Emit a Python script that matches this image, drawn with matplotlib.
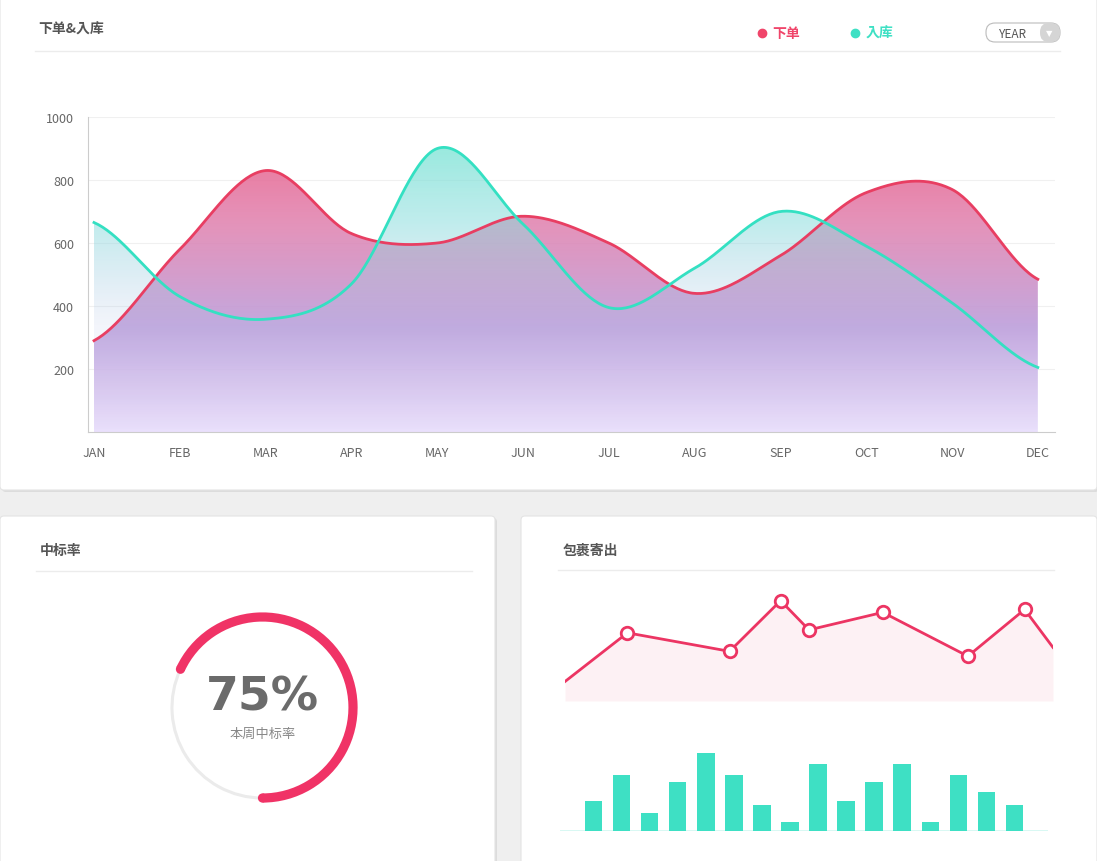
import numpy as np
import matplotlib
matplotlib.use("Agg")
import matplotlib.pyplot as plt
from matplotlib import font_manager as fm
from matplotlib.patches import FancyBboxPatch, Polygon, Wedge, Circle
from matplotlib.colors import LinearSegmentedColormap

cjk = None
for f in fm.findSystemFonts():
    if 'CJK' in f and ('Regular' in f or 'SC' in f or 'JP' in f):
        cjk = f; break
if cjk:
    fm.fontManager.addfont(cjk)
    cname = fm.FontProperties(fname=cjk).get_name()
else:
    cname = 'Noto Sans CJK SC'
plt.rcParams['font.family'] = [cname, 'DejaVu Sans']

months = ["JAN","FEB","MAR","APR","MAY","JUN","JUL","AUG","SEP","OCT","NOV","DEC"]
orders = [290, 580, 830, 630, 600, 685, 600, 440, 560, 760, 770, 485]
stock = [665, 430, 358, 470, 900, 660, 395, 520, 700, 590, 410, 205]
y_ticks = [200, 400, 600, 800, 1000]
rate = 75
parcel_x = [0, 1.1, 2.9, 3.8, 4.3, 5.6, 7.1, 8.1, 8.6]
parcel_y = [20, 70, 51, 103, 73, 91, 46, 94, 55]
bar_vals = [30, 56, 18, 49, 78, 56, 26, 9, 67, 30, 49, 67, 9, 56, 39, 26]

W, H = 1097, 862
fig = plt.figure(figsize=(W/100, H/100), dpi=100)
fig.patch.set_facecolor('#efefef')

def rect(x0, y0, x1, y1):
    return [x0/W, 1-y1/H, (x1-x0)/W, (y1-y0)/H]

bg = fig.add_axes([0, 0, 1, 1]); bg.set_xlim(0, W); bg.set_ylim(H, 0); bg.axis('off')
for (x0, y0, x1, y1) in [(0, -10, 1097, 491), (0, 517, 495, 875), (521, 517, 1097, 875)]:
    bg.add_patch(FancyBboxPatch((x0+2, y0+2), x1-x0, y1-y0, boxstyle="round,pad=0,rounding_size=4",
                                fc='#dcdcdc', ec='none'))
    bg.add_patch(FancyBboxPatch((x0, y0), x1-x0, y1-y0, boxstyle="round,pad=0,rounding_size=4",
                                fc='white', ec='#e4e4e4', lw=0.8))
bg.text(38, 30, "下单&入库", fontsize=10, color='#555', va='center', weight='bold')
bg.plot([35, 1060], [52, 52], color='#ececec', lw=1)
bg.plot([762], [34], 'o', color='#f0456a', ms=6); bg.text(772, 34, "下单", color='#f0456a', fontsize=10, va='center', weight='bold')
bg.plot([855], [34], 'o', color='#3ee0c4', ms=6); bg.text(866, 34, "入库", color='#3ee0c4', fontsize=10, va='center', weight='bold')
bg.add_patch(FancyBboxPatch((986, 24), 74, 19, boxstyle="round,pad=0,rounding_size=9", fc='white', ec='#bbb', lw=0.8))
bg.add_patch(FancyBboxPatch((1040, 24), 20, 19, boxstyle="round,pad=0,rounding_size=9", fc='#d5d5d5', ec='none'))
bg.text(1013, 34, "YEAR", fontsize=8.5, color='#555', ha='center', va='center')
bg.text(1049, 34, "▼", fontsize=6, color='white', ha='center', va='center', family='DejaVu Sans')
bg.text(40, 551, "中标率", fontsize=10, color='#555', va='center', weight='bold')
bg.plot([36, 472], [572, 572], color='#ececec', lw=1)
bg.text(563, 551, "包裹寄出", fontsize=10, color='#555', va='center', weight='bold')
bg.plot([558, 1054], [571, 571], color='#ececec', lw=1)

def catmull(xs, ys, n=40):
    xs = np.asarray(xs, float); ys = np.asarray(ys, float)
    px = np.concatenate([[2*xs[0]-xs[1]], xs, [2*xs[-1]-xs[-2]]])
    py = np.concatenate([[ys[0]], ys, [ys[-1]]])
    ox, oy = [], []
    for i in range(1, len(px)-2):
        t = np.linspace(0, 1, n, endpoint=False)
        for p, o in ((px, ox), (py, oy)):
            p0, p1, p2, p3 = p[i-1], p[i], p[i+1], p[i+2]
            o.extend(0.5*((2*p1) + (-p0+p2)*t + (2*p0-5*p1+4*p2-p3)*t**2 + (-p0+3*p1-3*p2+p3)*t**3))
    ox.append(xs[-1]); oy.append(ys[-1])
    return np.array(ox), np.array(oy)

ax = fig.add_axes(rect(88, 118, 1055, 433))
x = np.arange(12)
ax.set_yticks(y_ticks); ax.set_xticks(x); ax.set_xticklabels(months)
ax.tick_params(length=0, labelsize=9, colors='#666', pad=10)
ax.grid(axis='y', color='#f0f0f0', lw=0.8)
for s in ['top', 'right']: ax.spines[s].set_visible(False)
ax.spines['left'].set_color('#ccc'); ax.spines['bottom'].set_color('#ccc')
ax.set_axisbelow(True)

def grad_fill(xs, ys, cols, z):
    # cols listed from top (1000) to bottom (0)
    cmap = LinearSegmentedColormap.from_list('g', cols)
    poly = Polygon(np.column_stack([np.r_[xs, xs[-1], xs[0]], np.r_[ys, 0, 0]]), closed=True, fc='none', ec='none')
    ax.add_patch(poly)
    grad = np.linspace(0, 1, 256).reshape(-1, 1)
    im = ax.imshow(grad, cmap=cmap, extent=[xs[0], xs[-1], 0, 1000], aspect='auto', zorder=z, origin='upper')
    im.set_clip_path(poly)

rx, ry = catmull(x, orders)
sx, sy = catmull(x, stock)
grad_fill(rx, ry, [(0.93, 0.35, 0.5, 0.9), (0.88, 0.5, 0.68, 0.85), (0.74, 0.62, 0.86, 0.9), (0.91, 0.87, 0.99, 0.9)], 2)
grad_fill(sx, sy, [(0.45, 0.9, 0.82, 0.85), (0.55, 0.87, 0.87, 0.55), (0.7, 0.75, 0.9, 0.15), (0.8, 0.8, 0.95, 0.0)], 3)
ax.set_xlim(-0.07, 11.2); ax.set_ylim(0, 1000)
ax.plot(rx, ry, color='#e83e62', lw=2, zorder=5)
ax.plot(sx, sy, color='#34e0c2', lw=2, zorder=5)

# donut
ad = fig.add_axes(rect(150, 596, 375, 821)); ad.set_xlim(-1.1, 1.1); ad.set_ylim(-1.1, 1.1); ad.axis('off'); ad.set_aspect('equal')
start = -90; end = 155
ad.add_patch(Wedge((0, 0), 0.9, end, start+360, width=0.03, fc='#ebebeb', ec='none'))
ad.add_patch(Wedge((0, 0), 0.93, start, end, width=0.09, fc='#f03366', ec='none'))
for a in (start, end):
    r = 0.885
    ad.add_patch(Circle((r*np.cos(np.radians(a)), r*np.sin(np.radians(a))), 0.045, fc='#f03366', ec='none'))
ad.text(0, 0.1, f"{rate}%", fontsize=34, weight='bold', color='#6b6b6b', ha='center', va='center', family='DejaVu Sans')
ad.text(0, -0.25, "本周中标率", fontsize=9.5, color='#888', ha='center', va='center')

# parcel line
al = fig.add_axes(rect(565, 590, 1053, 702)); al.axis('off')
al.set_xlim(0, 8.6); al.set_ylim(0, 115)
al.fill_between(parcel_x, parcel_y, 0, color='#fdeef2', alpha=0.8, lw=0)
al.plot(parcel_x, parcel_y, color='#ec3563', lw=2)
al.plot(parcel_x[1:-1], parcel_y[1:-1], 'o', mfc='white', mec='#ec3563', mew=2, ms=9)

ab = fig.add_axes(rect(560, 745, 1048, 832)); ab.axis('off')
ab.set_xlim(-1.2, 16.2); ab.set_ylim(0, 87)
ab.bar(np.arange(16), bar_vals, width=0.62, color='#3ee0c4')
ab.axhline(0, color='#3ee0c4', lw=1)

fig.savefig("out.png", dpi=100, facecolor=fig.get_facecolor())
